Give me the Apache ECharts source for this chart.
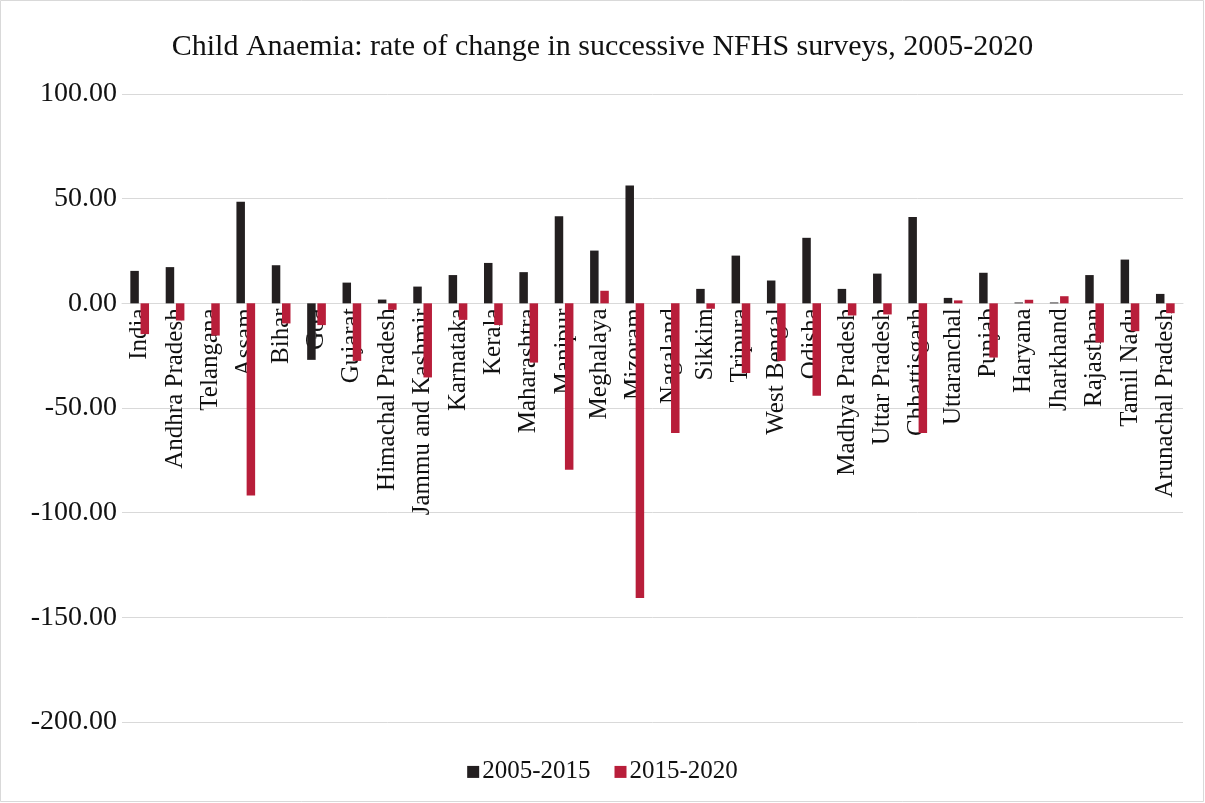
<style>body { margin: 0; }</style>
<div id="main" style="width:1205px; height:803px;"></div>

<script src="https://cdn.jsdelivr.net/npm/echarts@6/dist/echarts.min.js"></script>
<script>
var states = ['India', 'Andhra Pradesh', 'Telangana', 'Assam', 'Bihar', 'Goa', 'Gujarat',
	'Himachal Pradesh', 'Jammu and Kashmir', 'Karnataka', 'Kerala', 'Maharashtra', 'Manipur',
	'Meghalaya', 'Mizoram', 'Nagaland', 'Sikkim', 'Tripura', 'West Bengal', 'Odisha',
	'Madhya Pradesh', 'Uttar Pradesh', 'Chhattisgarh', 'Uttaranchal', 'Punjab', 'Haryana',
	'Jharkhand', 'Rajasthan', 'Tamil Nadu', 'Arunachal Pradesh'];

var change0515 = [15.5, 17.3, 0, 48.5, 18.2, -27.0, 9.9, 1.8, 8.0, 13.5, 19.3, 14.9, 41.6,
	25.2, 56.3, 0, 6.9, 22.8, 10.9, 31.3, 6.9, 14.2, 41.3, 2.6, 14.6, 0.4, 0.4, 13.5, 20.9, 4.5];

var change1520 = [-14.7, -8.2, -15.4, -91.8, -9.6, -10.4, -27.5, -3.1, -35.4, -7.9, -10.4,
	-28.3, -79.5, 6.0, -140.8, -62.0, -2.6, -33.3, -27.5, -44.2, -5.8, -5.3, -62.0, 1.4,
	-25.9, 1.7, 3.4, -18.7, -13.3, -4.7];

var yTicks = [-200, -150, -100, -50, 0, 50, 100];

var font = '"Liberation Serif", "DejaVu Serif", serif';

var gridTop = 94, gridBottom = 81, chartH = 803;
// category axis sits on the zero line (v6 keeps labels at the bottom with onZero)
var plotH = chartH - gridTop - gridBottom;
var zeroOffset = -plotH * (0 - yTicks[0]) / (yTicks[yTicks.length - 1] - yTicks[0]);

var myChart = echarts.init(main);

myChart.setOption({
	backgroundColor: '#fff',
	animation: false,
	title: {
		text: 'Child Anaemia: rate of change in successive NFHS surveys, 2005-2020',
		left: 'center',
		top: 19,
		textStyle: { fontFamily: font, fontSize: 30, fontWeight: 'normal', color: '#111' }
	},
	legend: {
		bottom: 7,
		left: 'center',
		itemWidth: 12,
		itemHeight: 12,
		itemGap: 24,
		icon: 'rect',
		textStyle: { fontFamily: font, fontSize: 25, color: '#111', padding: [0, 0, 0, -2] },
		data: ['2005-2015', '2015-2020']
	},
	graphic: [{
		type: 'rect',
		shape: { x: 0.5, y: 0.5, width: 1203, height: 801 },
		style: { fill: 'none', stroke: '#d9d9d9', lineWidth: 1 },
		silent: true
	}],
	grid: { left: 122, right: 22, top: gridTop, bottom: gridBottom, containLabel: false, outerBoundsMode: 'none' },
	xAxis: {
		type: 'category',
		data: states,
		position: 'bottom',
		offset: zeroOffset,
		axisLine: { onZero: false, lineStyle: { color: '#d9d9d9' } },
		axisTick: { show: false },
		axisLabel: {
			rotate: 90,
			interval: 0,
			margin: 5,
			fontFamily: font,
			fontSize: 25,
			color: '#111'
		}
	},
	yAxis: {
		type: 'value',
		min: yTicks[0],
		max: yTicks[yTicks.length - 1],
		interval: 50,
		axisLine: { show: false },
		axisTick: { show: false },
		splitLine: { lineStyle: { color: '#d9d9d9', width: 1 } },
		axisLabel: {
			margin: 5,
			fontFamily: font,
			fontSize: 28,
			color: '#111',
			formatter: function (v) { return v.toFixed(2); }
		}
	},
	series: [
		{
			name: '2005-2015',
			type: 'bar',
			data: change0515,
			barWidth: 8.5,
			barGap: '20%',
			itemStyle: { color: '#231f20' }
		},
		{
			name: '2015-2020',
			type: 'bar',
			data: change1520,
			barWidth: 8.5,
			itemStyle: { color: '#b81e3a' }
		}
	]
});
</script>
